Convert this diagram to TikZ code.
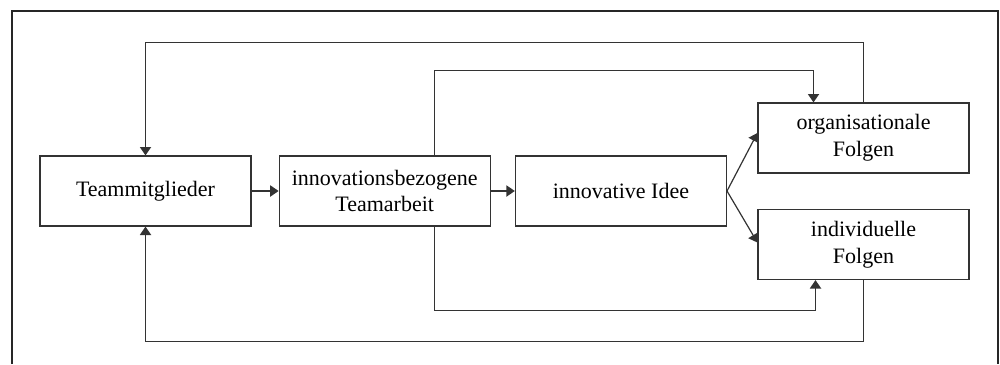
\documentclass[tikz,border=0pt]{standalone}
\usepackage{fontspec}
\setmainfont{Liberation Serif}
\usetikzlibrary{arrows.meta,positioning}

\begin{document}
\begin{tikzpicture}[
  x=0.5pt, y=-0.5pt,
  node distance=13.5pt,
  block/.style={rectangle, draw=black!80, line width=0.6pt, align=center,
                minimum width=105.5pt, minimum height=35pt, inner sep=2pt,
                font=\fontsize{11}{13.3}\selectfont},
  arr/.style={-{Triangle[length=4.2pt,width=5.6pt]}, line width=0.6pt, black!80},
  frame/.style={line width=0.8pt, black!85}
]
\useasboundingbox (0,0) rectangle (1000,364);
\draw[frame] (12,364) -- (12,11) -- (998,11) -- (998,364);
\node[block] (team) at (145.5,191) {Teammitglieder};
\node[block, right=13.5pt of team] (teamarbeit) {innovationsbezogene\\Teamarbeit};
\node[block, right=12pt of teamarbeit] (idee) {innovative Idee};
\node[block] (org) at (863.5,138) {organisationale\\Folgen};
\node[block] (indiv) at (863.5,244.5) {individuelle\\Folgen};
\draw[arr] (team) -- (teamarbeit);
\draw[arr] (teamarbeit) -- (idee);
\draw[arr] (idee.east) -- ([yshift=2.5pt]org.west);
\draw[arr] (idee.east) -- ([yshift=1pt]indiv.west);
% Rueckkopplungen
\draw[arr] ([xshift=25pt]teamarbeit.north) -- ++(0,-85) -| ([xshift=-25pt]org.north);
\draw[arr] ([xshift=25pt]teamarbeit.south) -- ++(0,84) -| ([xshift=-24pt]indiv.south);
\draw[arr] (org.north) -- ++(0,-60) -| (team.north);
\draw[arr] (indiv.south) -- ++(0,61) -| (team.south);
\end{tikzpicture}
\end{document}
